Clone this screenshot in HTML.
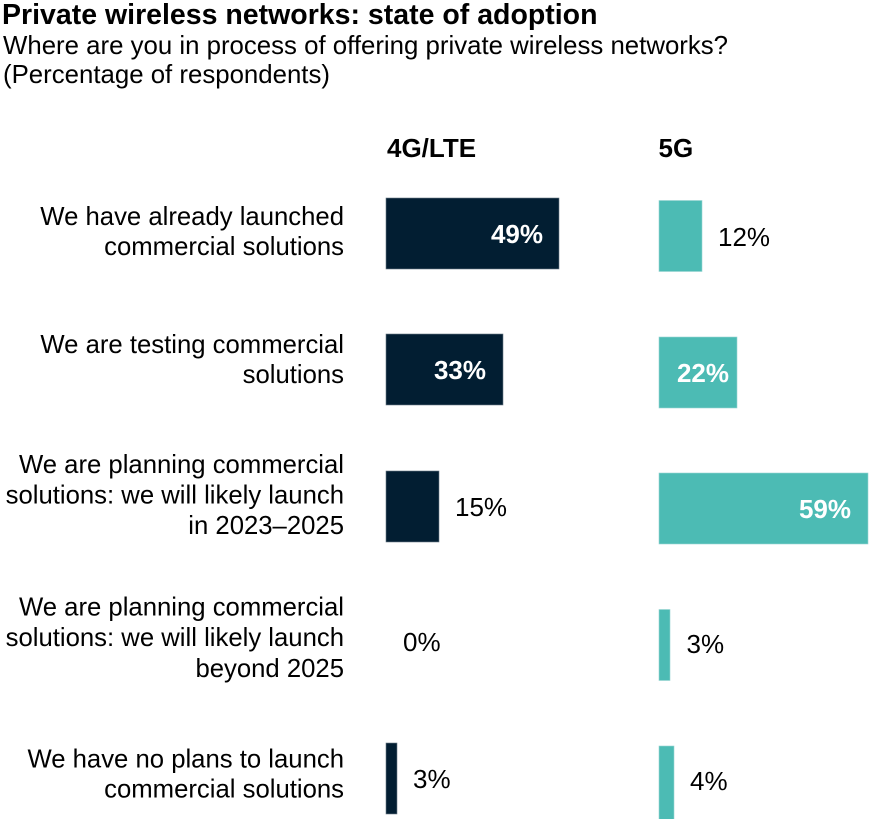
<!DOCTYPE html>
<html>
<head>
<meta charset="utf-8">
<style>
  html, body { margin:0; padding:0; background:#ffffff; }
  body { width:872px; height:819px; overflow:hidden; }
  svg { display:block; }
  text { font-family: "Liberation Sans", Arial, sans-serif; fill:#000; }
  .t { font-size:28.5px; font-weight:bold; }
  .s { font-size:25.8px; }
  .h { font-size:26px; font-weight:bold; }
  .l { font-size:25.7px; }
  .v { font-size:26px; }
  .vb { font-size:26px; font-weight:bold; fill:#ffffff; }
  .n { fill:#021E32; stroke:#6d7b87; stroke-width:0.6; }
  .g { fill:#4CBBB4; stroke:#9ad6d2; stroke-width:0.6; }
</style>
</head>
<body>
<svg width="872" height="819" viewBox="0 0 872 819" xmlns="http://www.w3.org/2000/svg">
  <!-- Title -->
  <text class="t" x="2" y="24">Private wireless networks: state of adoption</text>
  <text class="s" x="3" y="54">Where are you in process of offering private wireless networks?</text>
  <text class="s" x="3" y="83">(Percentage of respondents)</text>

  <!-- Column headers -->
  <text class="h" x="387" y="157">4G/LTE</text>
  <text class="h" x="658.5" y="157">5G</text>

  <!-- Row labels -->
  <g text-anchor="end">
    <text class="l" x="344" y="225">We have already launched</text>
    <text class="l" x="344" y="255">commercial solutions</text>

    <text class="l" x="344" y="353">We are testing commercial</text>
    <text class="l" x="344" y="383">solutions</text>

    <text class="l" x="344" y="473">We are planning commercial</text>
    <text class="l" x="344" y="503.5">solutions: we will likely launch</text>
    <text class="l" x="344" y="534">in 2023–2025</text>

    <text class="l" x="344" y="615.5">We are planning commercial</text>
    <text class="l" x="344" y="646">solutions: we will likely launch</text>
    <text class="l" x="344" y="677">beyond 2025</text>

    <text class="l" x="344" y="767.5">We have no plans to launch</text>
    <text class="l" x="344" y="797.5">commercial solutions</text>
  </g>

  <!-- 4G/LTE bars -->
  <rect class="n" x="386" y="198" width="173" height="71"/>
  <rect class="n" x="386" y="334" width="117" height="71"/>
  <rect class="n" x="386" y="471" width="53" height="71"/>
  <rect class="n" x="386" y="743" width="11" height="71"/>

  <!-- 5G bars -->
  <rect class="g" x="659" y="200.5" width="43" height="71"/>
  <rect class="g" x="659" y="337" width="78" height="71"/>
  <rect class="g" x="659" y="473" width="209" height="71"/>
  <rect class="g" x="659" y="609.5" width="11" height="71"/>
  <rect class="g" x="659" y="746" width="15" height="75"/>

  <!-- 4G/LTE values -->
  <text class="vb" x="543" y="243" text-anchor="end">49%</text>
  <text class="vb" x="486" y="379" text-anchor="end">33%</text>
  <text class="v" x="455" y="516">15%</text>
  <text class="v" x="403" y="651">0%</text>
  <text class="v" x="413" y="788">3%</text>

  <!-- 5G values -->
  <text class="v" x="718" y="246">12%</text>
  <text class="vb" x="729" y="382" text-anchor="end">22%</text>
  <text class="vb" x="851" y="518" text-anchor="end">59%</text>
  <text class="v" x="686.5" y="653">3%</text>
  <text class="v" x="690" y="790">4%</text>
</svg>
</body>
</html>
